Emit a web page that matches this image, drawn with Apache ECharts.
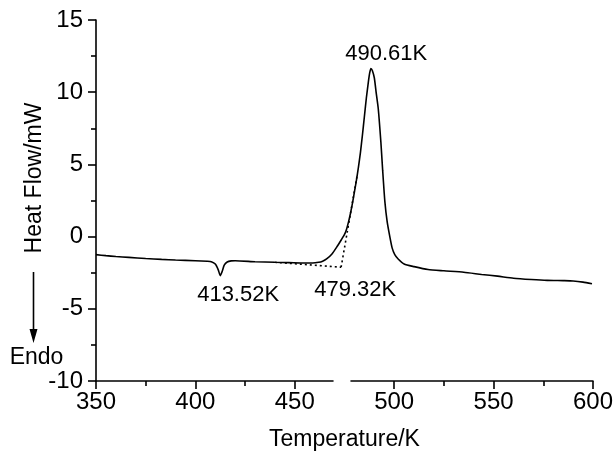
<!DOCTYPE html>
<html>
<head>
<meta charset="utf-8">
<script src="https://cdn.jsdelivr.net/npm/echarts@6/dist/echarts.min.js"></script>
<style>html,body{margin:0;padding:0;background:#fff}#c{width:616px;height:456px}</style>
</head>
<body>
<div id="c"></div>
<script>
// DSC curve (Temperature/K, Heat Flow/mW)
const temperature = [350,355,360,366.5,375,383,390,400,406,408,410,411.5,412.5,413.5,414.5,416,418,420,430,440,447,455,459,462,464,466,468.7,471,473.5,475,476,477,478,479,480,481,482,483,484,485,486,487,487.7,488.3,489,490,491,492,493.3,494.2,495.3,496.5,497.8,499,500.3,502,505,510,517,525,535,544,552,560,569,577,585,590,595,599.5];
const heatFlow    = [-1.25,-1.32,-1.38,-1.44,-1.52,-1.58,-1.62,-1.67,-1.71,-1.74,-1.9,-2.3,-2.7,-2.4,-1.98,-1.76,-1.68,-1.67,-1.74,-1.78,-1.8,-1.83,-1.83,-1.78,-1.7,-1.55,-1.2,-0.75,-0.2,0.15,0.5,1.0,1.6,2.3,3.1,3.9,4.8,5.8,7.0,8.3,9.6,10.7,11.35,11.64,11.5,11.0,9.9,8.84,6.55,4.6,2.44,1.0,0.0,-0.8,-1.25,-1.55,-1.9,-2.08,-2.28,-2.37,-2.47,-2.62,-2.74,-2.88,-2.97,-3.03,-3.05,-3.07,-3.15,-3.27];
// extrapolated baseline and onset tangent (dotted)
const baselineT = [440, 473.3];
const baselineV = [-1.78, -2.12];
const tangentT = [473.3, 481.5];
const tangentV = [-2.12, 4.35];
// annotations: anchor temperature, heat flow, text
const annoT = [496, 421.5, 480.4];
const annoV = [12.67, -4.04, -3.7];
const annoText = ['490.61K', '413.52K', '479.32K'];
// axis
const xMin = 350, xMax = 600, xStep = 50;
const yMin = -10, yMax = 15, yStep = 5;
const axisBreak = [469.5, 478];

const FONT = '"Liberation Sans", Arial, sans-serif';
const chart = echarts.init(document.getElementById('c'), null, {renderer: 'canvas'});
const axisCommon = {
  axisLine: {show: true, onZero: false, lineStyle: {color: '#000', width: 1.6}},
  axisTick: {show: true, inside: false, length: 8, lineStyle: {color: '#000', width: 1.6}},
  minorTick: {show: true, splitNumber: 2, length: 5, lineStyle: {color: '#000', width: 1.6}},
  splitLine: {show: false},
  axisLabel: {color: '#000', fontSize: 24, fontFamily: FONT}
};
chart.setOption({
  animation: false,
  backgroundColor: '#fff',
  grid: {left: 96, right: 22, top: 20, bottom: 71},
  xAxis: Object.assign({}, axisCommon, {
    type: 'value', min: xMin, max: xMax, interval: xStep,
    axisLabel: Object.assign({}, axisCommon.axisLabel, {margin: 9}),
    name: 'Temperature/K', nameLocation: 'middle', nameGap: 47,
    nameTextStyle: {color: '#000', fontSize: 23, fontFamily: FONT}
  }),
  yAxis: Object.assign({}, axisCommon, {
    type: 'value', min: yMin, max: yMax, interval: yStep,
    axisLabel: Object.assign({}, axisCommon.axisLabel, {margin: 13})
  }),
  series: [
    {
      type: 'line', data: temperature.map((t, i) => [t, heatFlow[i]]),
      showSymbol: false, smooth: 0.2, lineStyle: {color: '#000', width: 1.6}, z: 3
    },
    {
      type: 'line', data: baselineT.map((t, i) => [t, baselineV[i]]),
      showSymbol: false, lineStyle: {color: '#000', width: 1.6, type: [2, 3]}, z: 2
    },
    {
      type: 'line', data: tangentT.map((t, i) => [t, tangentV[i]]),
      showSymbol: false, lineStyle: {color: '#000', width: 1.6, type: [2, 3]}, z: 2
    }
  ]
});

// axis break, annotations, y-axis title and "Endo" arrow
const p1 = chart.convertToPixel({gridIndex: 0}, [axisBreak[0], yMin]);
const p2 = chart.convertToPixel({gridIndex: 0}, [axisBreak[1], yMin]);
const annoGraphics = annoText.map((txt, i) => {
  const p = chart.convertToPixel({gridIndex: 0}, [annoT[i], annoV[i]]);
  return {type: 'text', x: p[0], y: p[1], z: 50,
    style: {text: txt, fill: '#000', font: '22px ' + FONT, textAlign: 'center', textVerticalAlign: 'middle'}};
});
chart.setOption({
  graphic: [
    {type: 'rect', shape: {x: p1[0], y: p1[1] - 3, width: p2[0] - p1[0], height: 13}, style: {fill: '#fff'}, z: 100},
    {type: 'text', x: 35, y: 178, rotation: Math.PI / 2,
      style: {text: 'Heat Flow/mW', fill: '#000', font: '23px ' + FONT, textAlign: 'center', textVerticalAlign: 'middle'}},
    {type: 'line', shape: {x1: 33.5, y1: 272, x2: 33.5, y2: 332}, style: {stroke: '#000', lineWidth: 1.6}},
    {type: 'polygon', shape: {points: [[29.5, 329], [37.5, 329], [33.5, 343]]}, style: {fill: '#000'}},
    {type: 'text', x: 36.5, y: 358,
      style: {text: 'Endo', fill: '#000', font: '23px ' + FONT, textAlign: 'center', textVerticalAlign: 'middle'}}
  ].concat(annoGraphics)
});
</script>
</body>
</html>
